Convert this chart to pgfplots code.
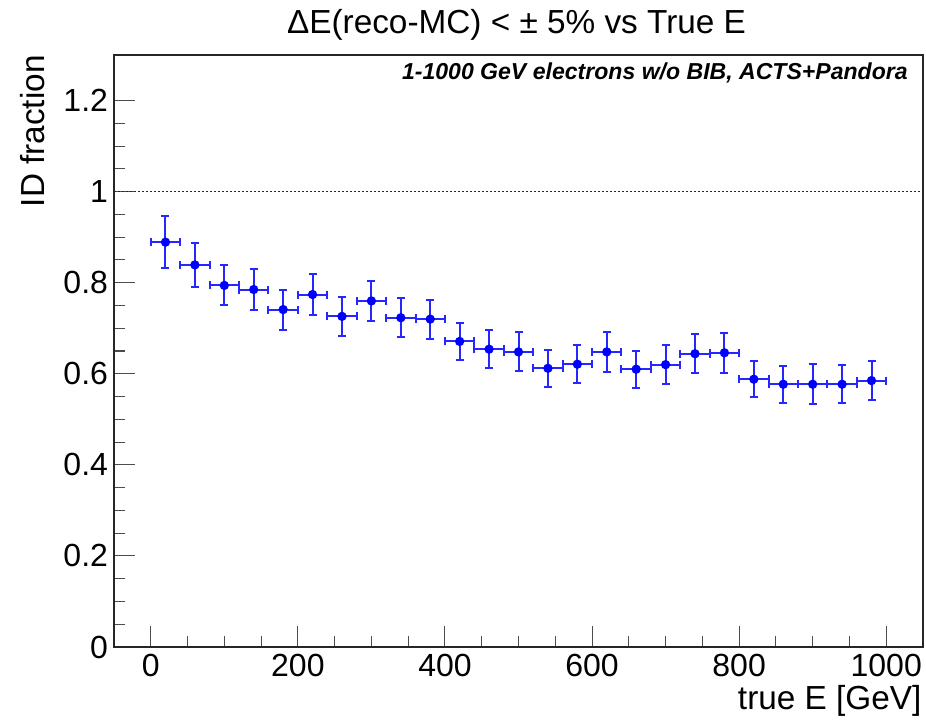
\documentclass[border=0pt]{standalone}
\usepackage{pgfplots}
\pgfplotsset{compat=1.18}
\usepackage{fontspec}
\setmainfont{Liberation Sans}
\begin{document}
\begin{tikzpicture}
% 1 px of the reference = 0.75pt
\useasboundingbox (-85.5pt,-55.5pt) rectangle (609pt,485.25pt);
\begin{axis}[
  at={(0,0)}, anchor=south west,
  scale only axis, width=606.75pt, height=444pt,
  xmin=-50, xmax=1050, ymin=0, ymax=1.3,
  xtick={0,200,...,1000}, ytick={0,0.2,...,1.2},
  minor x tick num=3, minor y tick num=3,
  tick align=inside, major tick length=16pt, minor tick length=8pt,
  xtick pos=bottom, ytick pos=left,
  axis line style={line width=0.9pt, black!85},
  every tick/.style={line width=0.8pt, black!70},
  /pgf/number format/assume math mode=true,
  /pgf/number format/1000 sep={},
  tick label style={font=\fontsize{24pt}{28pt}\selectfont},
  xticklabel style={yshift=-2pt},
  yticklabel style={xshift=-1pt},
  clip=false,
]
\addplot[black!85, line width=1.3pt, dash pattern=on 1.3pt off 1.7pt, forget plot]
  coordinates {(-50,1) (1050,1)};
\addplot[blue, line width=1.5pt, mark=*, mark size=2.7pt, only marks,
  error bars/.cd, x dir=both, x explicit, y dir=both, y explicit,
  error mark=|,
  error bar style={line width=1.5pt, blue!85},
  error mark options={mark size=3pt, line width=1.5pt, blue!85}]
coordinates {
(20,0.889) +- (20,0.057)
(60,0.839) +- (20,0.048)
(100,0.794) +- (20,0.044)
(140,0.785) +- (20,0.046)
(180,0.741) +- (20,0.044)
(220,0.774) +- (20,0.045)
(260,0.726) +- (20,0.043)
(300,0.760) +- (20,0.044)
(340,0.723) +- (20,0.043)
(380,0.720) +- (20,0.043)
(420,0.671) +- (20,0.040)
(460,0.654) +- (20,0.042)
(500,0.648) +- (20,0.043)
(540,0.612) +- (20,0.041)
(580,0.621) +- (20,0.042)
(620,0.648) +- (20,0.044)
(660,0.610) +- (20,0.041)
(700,0.620) +- (20,0.043)
(740,0.644) +- (20,0.043)
(780,0.646) +- (20,0.044)
(820,0.588) +- (20,0.040)
(860,0.577) +- (20,0.041)
(900,0.577) +- (20,0.044)
(940,0.577) +- (20,0.042)
(980,0.585) +- (20,0.043)
};
\coordinate (tl) at (rel axis cs:0,1);
\coordinate (br) at (rel axis cs:1,0);
\node[anchor=base, inner sep=0, font=\fontsize{25pt}{30pt}\selectfont]
  at (rel axis cs:0.5,1) [yshift=16.3pt, xshift=-1.5pt] {ΔE(reco-MC) < ± 5\% vs True E};
\node[anchor=base east, inner sep=0, font=\fontsize{17.3pt}{20pt}\selectfont\bfseries\itshape]
  at (rel axis cs:1,1) [yshift=-18.75pt, xshift=-11.25pt] {1-1000 GeV electrons w/o BIB, ACTS+Pandora};
\node[anchor=north east, inner sep=0, font=\fontsize{25pt}{30pt}\selectfont]
  at ([yshift=-28.5pt, xshift=-1pt]br) {true E [GeV]};
\node[anchor=north east, rotate=90, inner sep=0, font=\fontsize{25pt}{30pt}\selectfont]
  at ([xshift=-70.5pt]tl) {ID fraction};
\end{axis}
\end{tikzpicture}
\end{document}
